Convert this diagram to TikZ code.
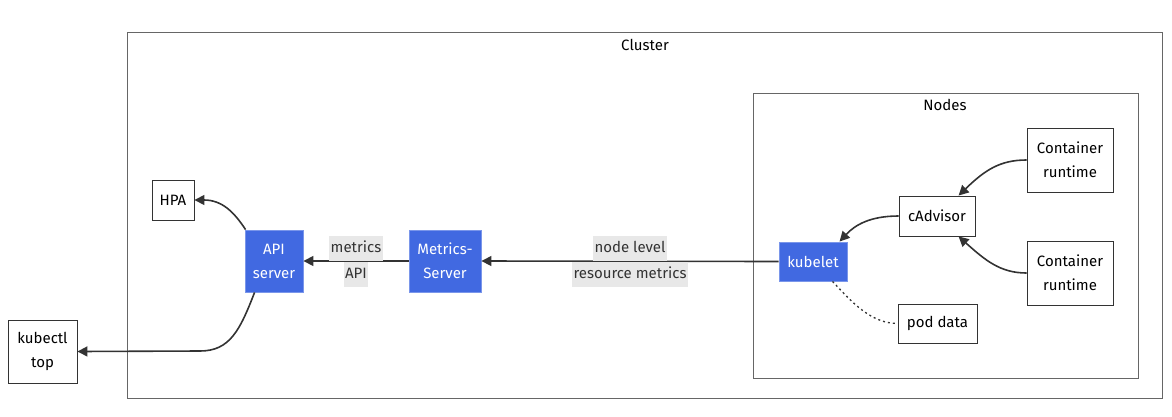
\documentclass[tikz,border=0pt]{standalone}
\usepackage{fontspec}
\setmainfont{Fira Sans}
\usetikzlibrary{arrows.meta}
\definecolor{blueN}{HTML}{4169E1}
\definecolor{lineC}{HTML}{333333}
\definecolor{grpC}{HTML}{666666}
\definecolor{lblbg}{HTML}{E8E8E8}
\newcommand\lblhl[1]{{\setlength{\fboxsep}{1.5pt}\colorbox{lblbg}{\strut #1}}}
\begin{document}
\begin{tikzpicture}[x=1pt,y=-1pt,
  every node/.style={font=\fontsize{15}{24}\selectfont, align=center},
  plain/.style={draw=lineC, fill=white, line width=0.9pt, inner sep=0pt},
  bluebox/.style={draw=blueN!70!white, fill=blueN, text=white, line width=0.9pt, inner sep=0pt},
  grp/.style={draw=grpC, line width=1pt},
  conn/.style={draw=lineC, line width=1.6pt, -{Triangle[length=10pt,width=10pt]}},
  elabel/.style={inner sep=0pt, text=black!80, font=\fontsize{15}{22}\selectfont}]
\useasboundingbox (0,0) rectangle (1172,416);
% groups
\draw[grp] (127,32) rectangle (1162,398);
\node (cl) at (645,45) {Cluster};
\draw[grp] (753,93) rectangle (1138,378);
\node (nd) at (945,105) {Nodes};
% nodes
\node[plain, minimum width=42pt, minimum height=40pt] (hpa) at (173,200) {HPA};
\node[plain, minimum width=69pt, minimum height=63pt] (kt) at (42.5,351.5) {kubectl\\top};
\node[bluebox, minimum width=58pt, minimum height=62pt] (api) at (274,261) {API\\server};
\node[bluebox, minimum width=72pt, minimum height=62pt] (ms) at (445,261) {Metrics-\\Server};
\node[bluebox, minimum width=68pt, minimum height=39pt] (kl) at (813,261.5) {kubelet};
\node[plain, minimum width=76pt, minimum height=40pt] (ca) at (937,216) {cAdvisor};
\node[plain, minimum width=86pt, minimum height=64pt] (cr1) at (1070,160) {Container\\runtime};
\node[plain, minimum width=86pt, minimum height=64pt] (cr2) at (1070,273) {Container\\runtime};
\node[plain, minimum width=79pt, minimum height=39pt] (pd) at (937.5,323.5) {pod data};
% connectors
\draw[conn] (api.north west) ++(1,0) coordinate (a1) .. controls (234,212) and (222,200) .. (hpa.east);
\draw[conn] (api.south west) ++(10,0) coordinate (a2) .. controls (240,330) and (230,351) .. (200,351) -- (kt.east);
\draw[conn] (ms.west) -- node[elabel] {\lblhl{metrics}\\\lblhl{API}} (api.east);
\draw[conn] (kl.west) -- node[elabel] {\lblhl{node level}\\\lblhl{resource metrics}} (ms.east);
\draw[conn] (ca.west) .. controls (870,216) and (855,225) .. ([xshift=61pt]kl.north west);
\draw[conn] (cr1.west) .. controls (1000,160) and (985,170) .. ([xshift=60pt]ca.north west);
\draw[conn] (cr2.west) .. controls (1000,273) and (985,260) .. ([xshift=60pt]ca.south west);
\draw[draw=lineC, line width=1.3pt, dash pattern=on 2pt off 3pt] ([xshift=54pt]kl.south west) .. controls (850,300) and (870,323.5) .. (pd.west);
\end{tikzpicture}
\end{document}
